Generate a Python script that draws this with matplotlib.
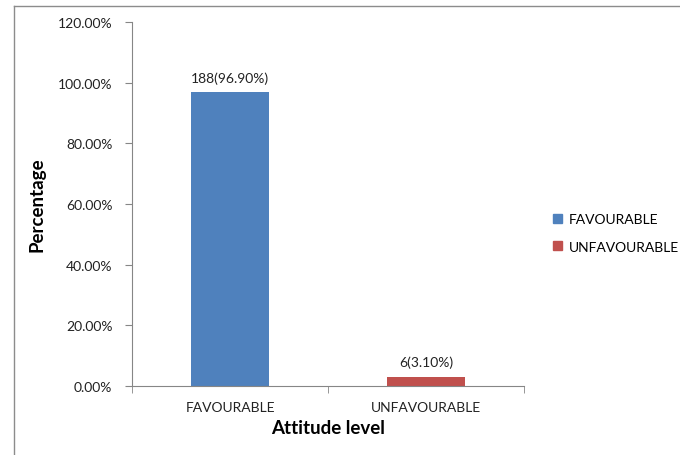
import numpy as np
from matplotlib import pyplot as plt
from matplotlib.lines import Line2D
from matplotlib.ticker import FuncFormatter, FixedLocator

categories = ["FAVOURABLE", "UNFAVOURABLE"]
counts = [188, 6]
percents = [96.90, 3.10]
colors = ["#4f81bd", "#c0504d"]

plt.rcParams['font.family'] = ['Lato', 'DejaVu Sans']

fig = plt.figure(figsize=(6.8, 4.56), dpi=100)
ax = fig.add_axes([0.194, 0.151, 0.577, 0.799])

x = np.arange(len(categories))
bars = ax.bar(x, percents, width=0.4, color=colors, label=categories)

for xi, c, p in zip(x, counts, percents):
    ax.annotate("%d(%.2f%%)" % (c, p), (xi, p), xytext=(0, 6),
                textcoords="offset points", ha="center", va="bottom",
                fontsize=10, color="#222222")

ax.set_xlim(-0.5, 1.5)
ax.set_ylim(0, 120)
ax.set_yticks(np.arange(0, 121, 20))
ax.yaxis.set_major_formatter(FuncFormatter(lambda v, pos: "%.2f%%" % v))
ax.set_xticks(x)
ax.set_xticklabels(categories)
ax.xaxis.set_minor_locator(FixedLocator([-0.5, 0.5, 1.5]))
ax.tick_params(axis='x', which='major', length=0, pad=11, labelsize=10, colors="#222222")
ax.tick_params(axis='x', which='minor', length=5, color="#868686")
ax.tick_params(axis='y', length=5, color="#868686", labelsize=10, labelcolor="#222222", pad=9)

for s in ['top', 'right']:
    ax.spines[s].set_visible(False)
for s in ['left', 'bottom']:
    ax.spines[s].set_color("#868686")

ax.set_ylabel("Percentage", fontsize=13.5, fontweight="bold", labelpad=9)
ax.set_xlabel("Attitude level", fontsize=13.5, fontweight="bold", labelpad=4)

handles = [plt.Rectangle((0, 0), 1, 1, color=c) for c in colors]
fig.legend(handles, categories, loc="center left", bbox_to_anchor=(0.795, 0.487),
           frameon=False, fontsize=10, handlelength=0.65, handleheight=0.65,
           handletextpad=0.5, labelspacing=1.1)

# chart border (only left and top visible in the crop)
fig.add_artist(Line2D([0.021, 0.021], [0, 0.985], color="#8c8c8c", lw=1))
fig.add_artist(Line2D([0.021, 1.0], [0.985, 0.985], color="#8c8c8c", lw=1))

fig.savefig("out.png", dpi=100)
